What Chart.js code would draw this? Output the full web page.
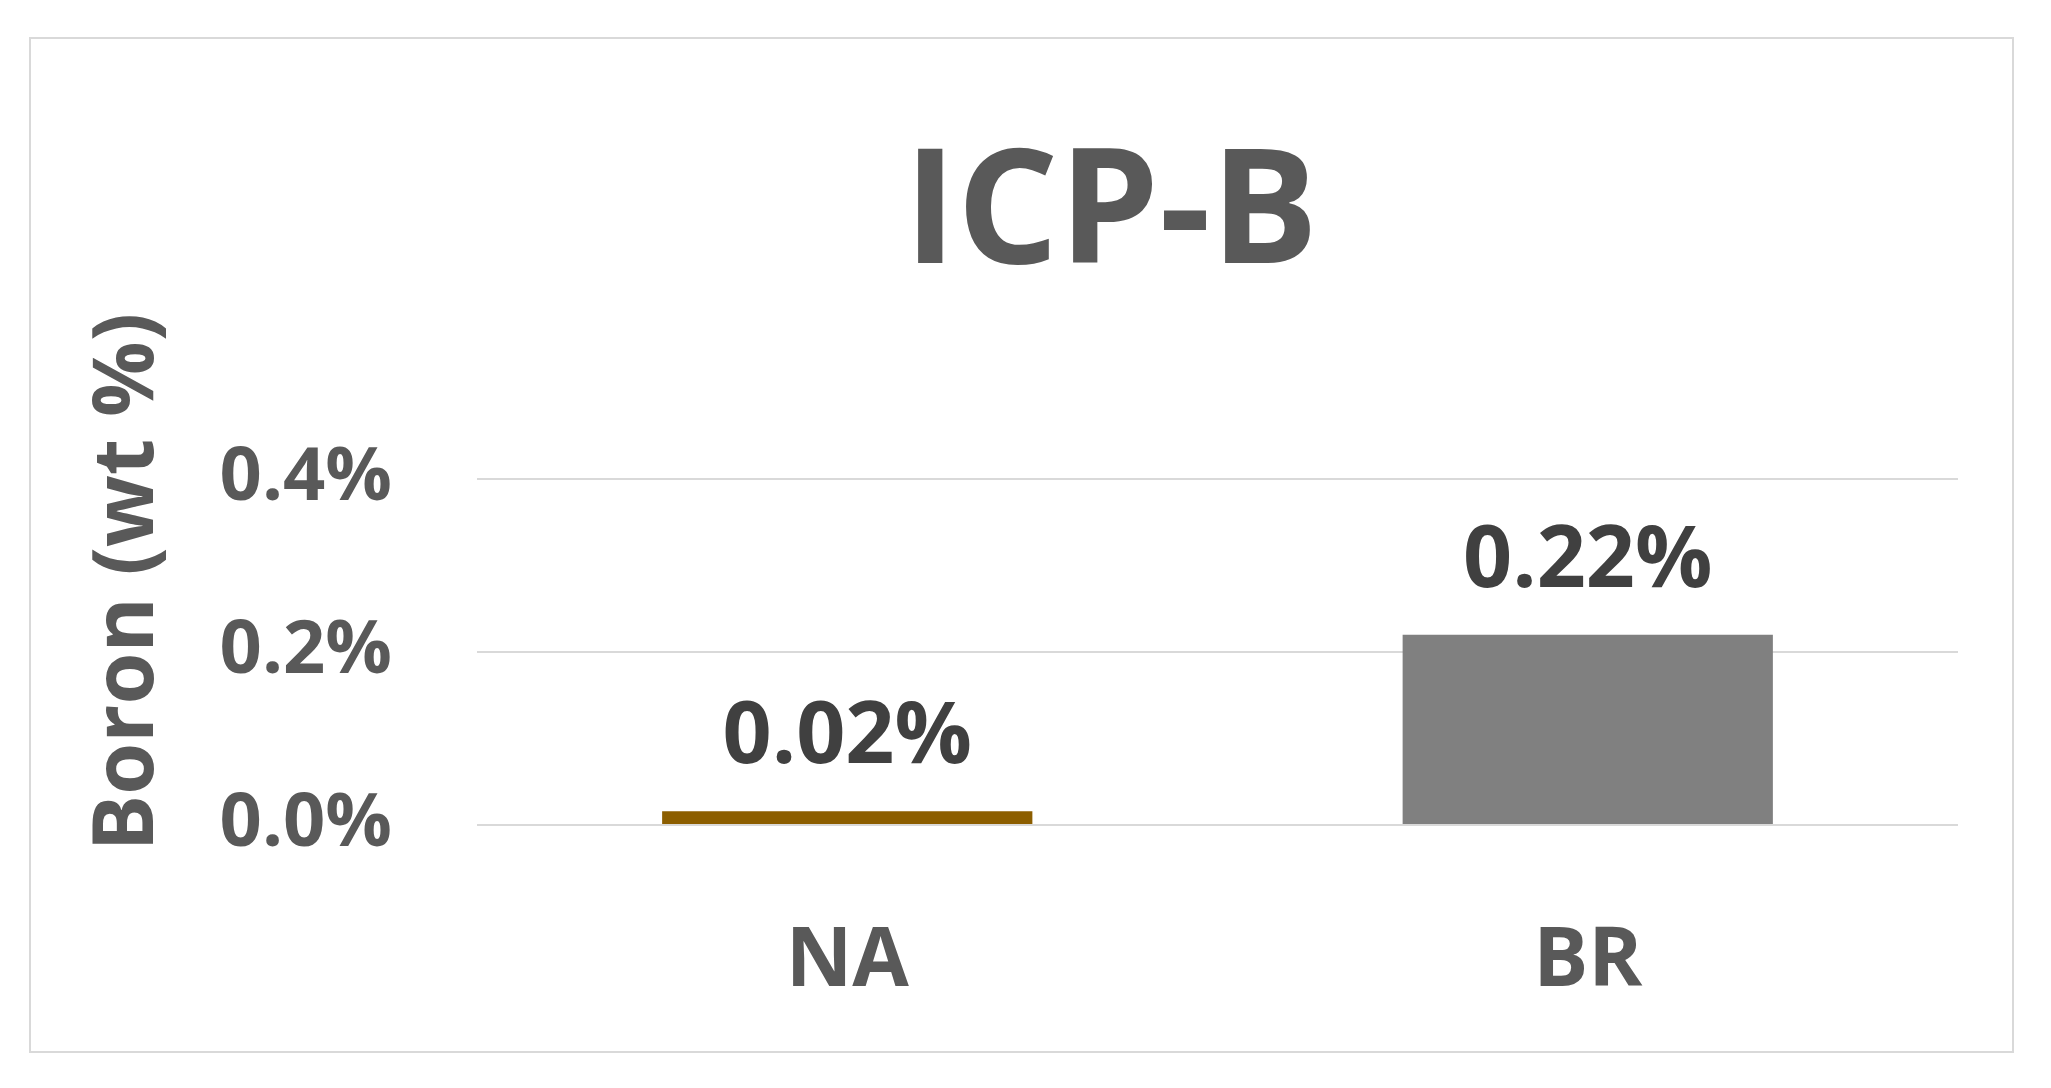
<!DOCTYPE html>
<html><head><meta charset="utf-8">
<script src="https://cdn.jsdelivr.net/npm/chart.js@4.4.1/dist/chart.umd.min.js"></script>
<style>
html,body{margin:0;padding:0;background:#fff;}
#box{position:absolute;left:29px;top:37px;width:1981px;height:1012px;border:2px solid #d9d9d9;}
canvas{display:block;}
</style></head><body>
<div id="box"><canvas id="c" width="1981" height="1012"></canvas></div>
<script>
const chartTitle = 'ICP-B';
const yAxisTitle = 'Boron (wt %)';
const categories = ['NA', 'BR'];
const boronValues = [0.016, 0.22];
const barColors = ['#8C5E00', '#808080'];
const yTickValues = [0, 0.2, 0.4];

const FONT = "'Open Sans', 'Noto Sans', sans-serif";

const dataLabels = {
  id: 'dataLabels',
  afterDatasetsDraw(chart) {
    const ctx = chart.ctx;
    const meta = chart.getDatasetMeta(0);
    ctx.save();
    ctx.font = "bold 86px " + FONT;
    ctx.fillStyle = '#404040';
    ctx.textAlign = 'center';
    ctx.textBaseline = 'alphabetic';
    meta.data.forEach((bar, i) => {
      ctx.fillText(boronValues[i].toFixed(2) + '%', bar.x, bar.y - 48);
    });
    ctx.restore();
  }
};

const titles = {
  id: 'titles',
  afterDraw(chart) {
    const ctx = chart.ctx;
    const area = chart.chartArea;
    ctx.save();
    ctx.fillStyle = '#595959';
    // main title
    ctx.font = "bold 160px " + FONT;
    ctx.textAlign = 'center';
    ctx.textBaseline = 'alphabetic';
    ctx.fillText(chartTitle, 1080, 224);
    // y axis title
    ctx.translate(98, (area.top + area.bottom) / 2 - 70);
    ctx.rotate(-Math.PI / 2);
    ctx.font = "bold 84px " + FONT;
    ctx.textBaseline = 'middle';
    ctx.fillText(yAxisTitle, 0, 0);
    ctx.restore();
  }
};

new Chart(document.getElementById('c'), {
  type: 'bar',
  data: {
    labels: categories,
    datasets: [{
      data: boronValues,
      backgroundColor: barColors,
      barPercentage: 0.5,
      categoryPercentage: 1.0,
      borderWidth: 0
    }]
  },
  options: {
    responsive: false,
    animation: false,
    layout: { padding: { left: 0, right: 54, top: 440, bottom: 0 } },
    plugins: {
      legend: { display: false },
      tooltip: { enabled: false },
      title: { display: false }
    },
    scales: {
      x: {
        grid: { display: false, drawTicks: false },
        border: { display: false },
        ticks: { color: '#595959', font: { family: FONT, size: 82, weight: 'bold' }, padding: 88 },
        afterFit(s) { s.height = 226; }
      },
      y: {
        min: 0, max: 0.4,
        afterBuildTicks(s) { s.ticks = yTickValues.map(v => ({ value: v })); },
        grid: { color: '#d9d9d9', lineWidth: 2, drawTicks: false },
        border: { display: false },
        ticks: {
          color: '#595959',
          font: { family: FONT, size: 74, weight: 'bold' },
          padding: 85,
          callback: v => Number(v).toFixed(1) + '%'
        },
        afterFit(s) { s.width = 446; }
      }
    }
  },
  plugins: [dataLabels, titles]
});
</script>
</body></html>
